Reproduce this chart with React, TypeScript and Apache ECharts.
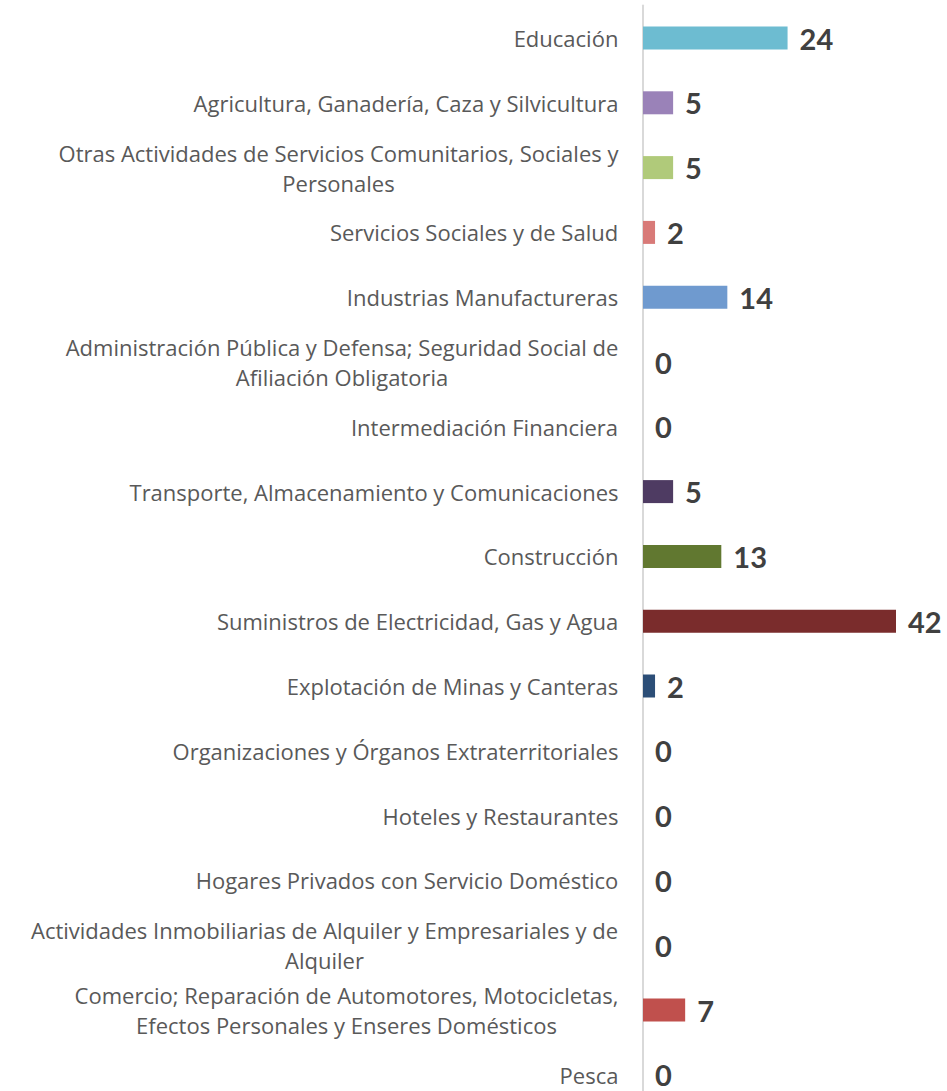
import React, { useEffect, useRef } from "react";
import * as echarts from "echarts";

const categories: string[] = [
  "Educación",
  "Agricultura, Ganadería, Caza y Silvicultura",
  "Otras Actividades de Servicios Comunitarios, Sociales y\nPersonales",
  "Servicios Sociales y de Salud",
  "Industrias Manufactureras",
  "Administración Pública y Defensa; Seguridad Social de\nAfiliación Obligatoria",
  "Intermediación Financiera",
  "Transporte, Almacenamiento y Comunicaciones",
  "Construcción",
  "Suministros de Electricidad, Gas y Agua",
  "Explotación de Minas y Canteras",
  "Organizaciones y Órganos Extraterritoriales",
  "Hoteles y Restaurantes",
  "Hogares Privados con Servicio Doméstico",
  "Actividades Inmobiliarias de Alquiler y Empresariales y de\nAlquiler",
  "Comercio; Reparación de Automotores, Motocicletas,\nEfectos Personales y Enseres Domésticos",
  "Pesca",
];

const values: number[] = [24, 5, 5, 2, 14, 0, 0, 5, 13, 42, 2, 0, 0, 0, 0, 7, 0];

const barColors: string[] = [
  "#6DBCD1",
  "#9A82B8",
  "#B0CA7A",
  "#D87A78",
  "#6F9ACF",
  "#8F7AAE",
  "#6BB7CC",
  "#4E3B62",
  "#617830",
  "#7A2C2C",
  "#2C4E77",
  "#F79646",
  "#4BACC6",
  "#8064A2",
  "#9BBB59",
  "#C0504D",
  "#4F81BD",
];

const LABEL_FONT = "Open Sans";
const LABEL_SIZE = 22;
const VALUE_FONT = "Lato";

export default function App() {
  const ref = useRef<HTMLDivElement>(null);

  useEffect(() => {
    document.body.style.margin = "0";
    document.body.style.overflow = "hidden";
    if (!ref.current) return;
    const chart = echarts.init(ref.current, undefined, { renderer: "svg" });

    const canvas = document.createElement("canvas");
    const ctx = canvas.getContext("2d")!;
    ctx.font = `${LABEL_SIZE}px "${LABEL_FONT}"`;
    const rich: Record<string, any> = {};
    categories.forEach((c, i) => {
      const lines = c.split("\n");
      const w = Math.ceil(Math.max(...lines.map((l) => ctx.measureText(l).width))) + 1;
      rich["w" + i] = {
        width: w,
        align: "center",
        fontSize: LABEL_SIZE,
        fontFamily: LABEL_FONT,
        color: "#595959",
        lineHeight: 30,
      };
    });

    chart.setOption({
      animation: false,
      grid: { left: 643, top: 5.6, width: 253, height: 1101.6 },
      xAxis: {
        type: "value",
        min: 0,
        max: 42,
        show: false,
      },
      yAxis: {
        type: "category",
        inverse: true,
        data: categories,
        axisLine: { show: true, lineStyle: { color: "#D9D9D9", width: 2 } },
        axisTick: { show: false },
        axisLabel: {
          margin: 24,
          align: "right",
          formatter: (v: string, i: number) =>
            v
              .split("\n")
              .map((l) => `{w${i}|${l}}`)
              .join("\n"),
          rich,
        },
      },
      series: [
        {
          type: "bar",
          barWidth: 23,
          data: values.map((v, i) => ({ value: v, itemStyle: { color: barColors[i] } })),
          label: {
            show: true,
            position: "right",
            distance: 12,
            fontFamily: VALUE_FONT,
            fontWeight: "bold",
            fontSize: 29,
            color: "#404040",
          },
        },
      ],
    });
    return () => chart.dispose();
  }, []);

  return <div ref={ref} style={{ width: 947, height: 1130 }} />;
}
